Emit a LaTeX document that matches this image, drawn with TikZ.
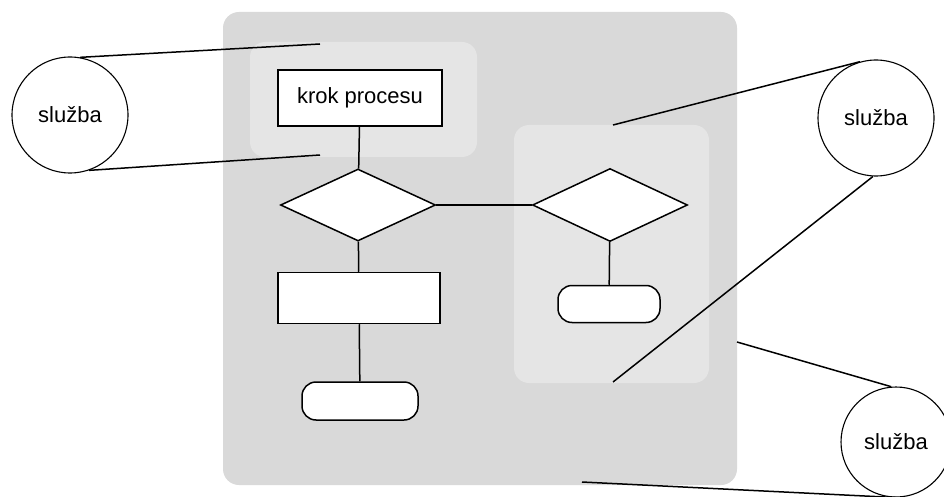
\documentclass[tikz,border=0pt]{standalone}
\usepackage{fontspec}
\setmainfont{Liberation Sans}
\usetikzlibrary{shapes.geometric}

\definecolor{poolgray}{RGB}{217,217,217}
\definecolor{lanegray}{RGB}{229,229,229}

\tikzset{
  service/.style={circle,draw,fill=white,line width=1.1pt,minimum size=116pt,inner sep=0pt},
  stepbox/.style={rectangle,draw,fill=white,line width=1.5pt,inner sep=0pt},
  decision/.style={diamond,draw,fill=white,line width=1.5pt,inner sep=0pt},
  terminal/.style={rectangle,rounded corners=14pt,draw,fill=white,line width=1.5pt,inner sep=0pt},
  link/.style={line width=1.5pt}
}

\begin{document}
\begin{tikzpicture}[x=1pt,y=-1pt,font=\fontsize{22}{26}\selectfont]
    \useasboundingbox (0,0) rectangle (944,497);
    % process pool and its two parts
    \fill[poolgray,rounded corners=16pt] (223,12) rectangle (737,485);
    \fill[lanegray,rounded corners=15pt] (250,42) rectangle (477,157);
    \fill[lanegray,rounded corners=15pt] (514,125) rectangle (709,383);

    % flow
    \node[stepbox,minimum width=164pt,minimum height=56pt] (krok) at (360,98) {krok procesu};
    \node[decision,minimum width=155pt,minimum height=72pt] (volba) at (358,205) {};
    \node[stepbox,minimum width=162pt,minimum height=51pt] (krok2) at (359,298) {};
    \node[terminal,minimum width=116pt,minimum height=38pt] (konec) at (360,401) {};
    \node[decision,minimum width=155pt,minimum height=73pt] (volba2) at (610,205) {};
    \node[terminal,minimum width=102pt,minimum height=37pt] (konec2) at (609,304) {};

    \draw[link] (krok) -- (volba);
    \draw[link] (volba) -- (krok2);
    \draw[link] (krok2) -- (konec);
    \draw[link] (volba) -- (volba2);
    \draw[link] (volba2) -- (konec2);

    % services around the pool
    \node[service] (sluzbaL) at (70,115) {služba};
    \node[service] (sluzbaR) at (876,118) {služba};
    \node[service,minimum size=110pt] (sluzbaB) at (896,442) {služba};

    \coordinate (a1) at (320,44);
    \coordinate (a2) at (320,155);
    \coordinate (b1) at (613,125);
    \coordinate (b2) at (613,382);
    \coordinate (c1) at (737,342);
    \coordinate (c2) at (582,482);

    \draw[link] (sluzbaL.80) -- (a1);
    \draw[link] (sluzbaL.-71) -- (a2);
    \draw[link] (sluzbaR.106) -- (b1);
    \draw[link] (sluzbaR.-93) -- (b2);
    \draw[link] (sluzbaB.95) -- (c1);
    \draw[link] (sluzbaB.-90) -- (c2);
\end{tikzpicture}
\end{document}
